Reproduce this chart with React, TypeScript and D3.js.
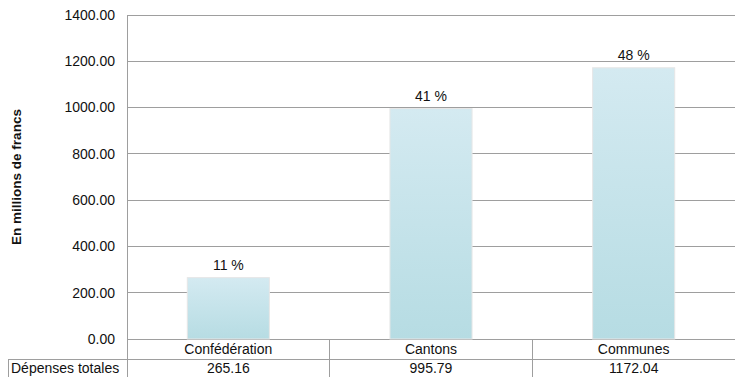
import React from "react";
import * as d3 from "d3";

const categories = ["Confédération", "Cantons", "Communes"];
const values = [265.16, 995.79, 1172.04];
const percentLabels = ["11 %", "41 %", "48 %"];
const yTicks = [0, 200, 400, 600, 800, 1000, 1200, 1400];
const rowLabel = "Dépenses totales";
const yTitle = "En millions de francs";

const W = 735;
const H = 377;
const left = 127;
const right = 735;
const top = 15;
const bottom = 339;
const rowH = 20;

export default function App() {
  const x = d3.scaleBand<string>().domain(categories).range([left, right]).paddingInner(0).paddingOuter(0);
  const y = d3.scaleLinear().domain([0, 1400]).range([bottom, top]);
  const bw = x.bandwidth() * 0.405;
  const font = "'Liberation Sans', Arial, Helvetica, sans-serif";
  const grid = "#9e9e9e";
  const fs = 14;
  const row1 = bottom + rowH;
  return (
    <div style={{ position: "absolute", left: 0, top: 0 }}>
      <svg width={W} height={H} style={{ display: "block" }} fontFamily={font}>
        <defs>
          <linearGradient id="barGrad" x1="0" y1="0" x2="0" y2="1">
            <stop offset="0" stopColor="#d4eaf1" />
            <stop offset="1" stopColor="#b6dce3" />
          </linearGradient>
        </defs>
        {yTicks.map((t) => (
          <g key={t}>
            <line x1={left} x2={right} y1={y(t)} y2={y(t)} stroke={grid} strokeWidth={1} shapeRendering="crispEdges" />
            <text x={115} y={y(t)} dy="0.35em" textAnchor="end" fontSize={fs} fill="#111">
              {d3.format(".2f")(t)}
            </text>
          </g>
        ))}
        <line x1={left} x2={left} y1={top} y2={H} stroke={grid} shapeRendering="crispEdges" />
        {categories.map((c, i) => {
          const cx = (x(c) as number) + x.bandwidth() / 2;
          return (
            <g key={c}>
              <rect
                x={cx - bw / 2}
                y={y(values[i])}
                width={bw}
                height={bottom - y(values[i])}
                fill="url(#barGrad)"
                stroke="#e6e6e6"
                strokeWidth={1}
              />
              <text x={cx} y={y(values[i]) - 8} textAnchor="middle" fontSize={fs} fill="#111">
                {percentLabels[i]}
              </text>
            </g>
          );
        })}
        {/* data table */}
        <line x1={8} x2={right} y1={row1} y2={row1} stroke={grid} shapeRendering="crispEdges" />
        <line x1={8} x2={8} y1={row1} y2={H} stroke={grid} shapeRendering="crispEdges" />
        {categories.slice(1).map((c) => (
          <line key={c} x1={x(c)} x2={x(c)} y1={bottom} y2={H} stroke={grid} shapeRendering="crispEdges" />
        ))}
        {categories.map((c, i) => {
          const cx = (x(c) as number) + x.bandwidth() / 2;
          return (
            <g key={c}>
              <text x={cx} y={bottom + rowH / 2} dy="0.36em" textAnchor="middle" fontSize={fs} fill="#111">
                {c}
              </text>
              <text x={cx} y={row1 + 9} dy="0.36em" textAnchor="middle" fontSize={fs} fill="#111">
                {d3.format(".2f")(values[i])}
              </text>
            </g>
          );
        })}
        <text x={11} y={row1 + 9} dy="0.36em" textAnchor="start" fontSize={fs} fill="#111">
          {rowLabel}
        </text>
        <text
          transform={`translate(21,177) rotate(-90)`}
          textAnchor="middle"
          fontSize={13.5}
          fontWeight="bold"
          fill="#111"
        >
          {yTitle}
        </text>
      </svg>
    </div>
  );
}
